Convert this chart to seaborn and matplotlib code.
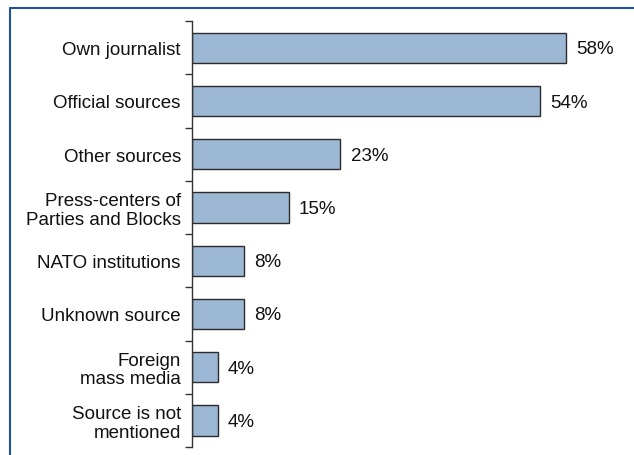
import numpy as np
import pandas as pd
import matplotlib
matplotlib.use("Agg")
import matplotlib.pyplot as plt
import seaborn as sns
from matplotlib.lines import Line2D

# Data
sources = ["Own journalist", "Official sources", "Other sources",
           "Press-centers of\nParties and Blocks", "NATO institutions",
           "Unknown source", "Foreign\nmass media", "Source is not\nmentioned"]
shares = [58, 54, 23, 15, 8, 8, 4, 4]

df = pd.DataFrame({"source": sources, "share": shares})

sns.set_style("white")
plt.rcParams["font.family"] = ["Liberation Sans", "DejaVu Sans"]

fig = plt.figure(figsize=(6.34, 4.56), dpi=100)
ax = fig.add_axes([0.3028, 0.0175, 0.692, 0.934])

sns.barplot(data=df, x="share", y="source", orient="h", color="#9bb7d4",
            edgecolor="#2b2b2b", linewidth=1.0, width=0.57, saturation=1, ax=ax)

ax.set_xlim(0, 68)
ax.set_ylim(len(sources) - 0.5, -0.5)

# value labels
for i, v in enumerate(shares):
    ax.text(v + 1.6, i + 0.02, f"{v}%", va="center", ha="left", fontsize=13.5, color="#111111")

# axis cosmetics
for side in ["top", "right", "bottom"]:
    ax.spines[side].set_visible(False)
ax.spines["left"].set_color("#333333")
ax.spines["left"].set_linewidth(1.0)
ax.set_xticks([])
ax.set_xlabel("")
ax.set_ylabel("")
ax.set_yticks(np.arange(len(sources)))
ax.set_yticklabels(sources, fontsize=13.5, color="#111111", linespacing=1.1)
ax.tick_params(axis="y", which="major", left=False, length=0, pad=8)
ax.set_yticks(np.arange(-0.5, len(sources), 1), minor=True)
ax.tick_params(axis="y", which="minor", left=True, length=5, width=1.0,
               color="#333333", direction="out")
for t in ax.yaxis.get_minor_ticks():
    t.tick1line.set_clip_on(False)

# blue frame (top and left edges)
frame_color = "#1f5596"
fig.add_artist(Line2D([9.5 / 634, 1.0], [1 - 8.5 / 456, 1 - 8.5 / 456],
                      transform=fig.transFigure, color=frame_color, lw=1.5))
fig.add_artist(Line2D([9.5 / 634, 9.5 / 634], [0.0, 1 - 8.5 / 456],
                      transform=fig.transFigure, color=frame_color, lw=1.5))

fig.savefig("out.png", dpi=100)
